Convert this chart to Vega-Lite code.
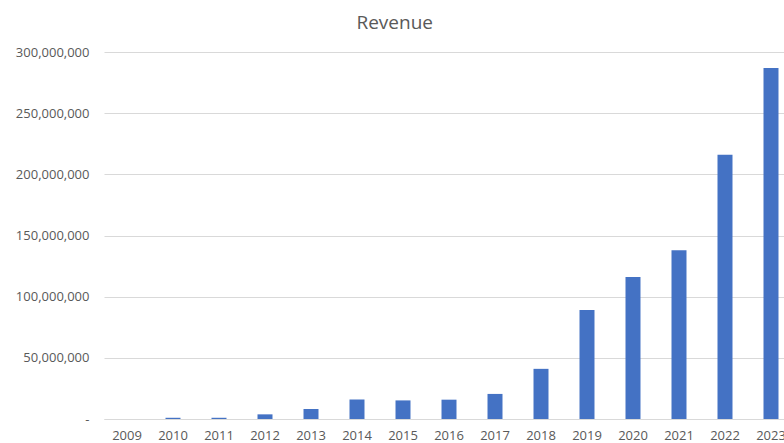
{
  "$schema": "https://vega.github.io/schema/vega-lite/v6.json",
  "autosize": "none",
  "width": 680,
  "height": 367,
  "padding": {"left": 104, "top": 52, "right": 0, "bottom": 24},
  "background": "white",
  "config": {
    "font": "Open Sans",
    "view": {"stroke": null}
  },
  "title": {
    "text": "Revenue",
    "fontSize": 19,
    "fontWeight": "normal",
    "color": "#595959",
    "anchor": "middle",
    "frame": "bounds",
    "dx": -10,
    "offset": 13
  },
  "data": {
    "values": [
      {"year": "2009", "revenue": 0},
      {"year": "2010", "revenue": 1000000},
      {"year": "2011", "revenue": 1000000},
      {"year": "2012", "revenue": 3800000},
      {"year": "2013", "revenue": 8200000},
      {"year": "2014", "revenue": 16000000},
      {"year": "2015", "revenue": 15200000},
      {"year": "2016", "revenue": 15800000},
      {"year": "2017", "revenue": 20500000},
      {"year": "2018", "revenue": 41000000},
      {"year": "2019", "revenue": 89000000},
      {"year": "2020", "revenue": 116000000},
      {"year": "2021", "revenue": 138000000},
      {"year": "2022", "revenue": 216000000},
      {"year": "2023", "revenue": 287000000}
    ]
  },
  "mark": {"type": "bar", "color": "#4472C4"},
  "encoding": {
    "x": {
      "field": "year",
      "type": "ordinal",
      "title": null,
      "scale": {"range": [0, 690], "paddingInner": 0.674, "paddingOuter": 0.337},
      "axis": {
        "labelAngle": 0,
        "ticks": false,
        "domainColor": "#d9d9d9",
        "labelColor": "#595959",
        "labelFontSize": 13,
        "labelPadding": 10,
        "grid": false
      }
    },
    "y": {
      "field": "revenue",
      "type": "quantitative",
      "title": null,
      "scale": {"domain": [0, 300000000], "nice": false},
      "axis": {
        "values": [0, 50000000, 100000000, 150000000, 200000000, 250000000, 300000000],
        "labelExpr": "datum.value == 0 ? '-\u00a0\u00a0\u00a0\u00a0' : format(datum.value, ',')",
        "ticks": false,
        "domain": false,
        "gridColor": "#d9d9d9",
        "labelColor": "#595959",
        "labelFontSize": 13,
        "labelPadding": 15
      }
    }
  }
}
